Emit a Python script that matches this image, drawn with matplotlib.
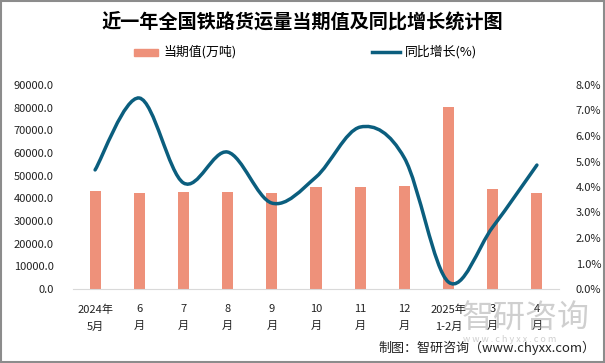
import numpy as np
import matplotlib
matplotlib.use("Agg")
import matplotlib.pyplot as plt
from matplotlib.path import Path
from matplotlib.patches import PathPatch, Rectangle
from matplotlib.lines import Line2D

plt.rcParams['font.family'] = ['Noto Sans CJK SC', 'DejaVu Sans']

# data
months = ["2024年\n5月", "6\n月", "7\n月", "8\n月", "9\n月", "10\n月",
          "11\n月", "12\n月", "2025年\n1-2月", "3\n月", "4\n月"]
volume = [43200, 42300, 42800, 42800, 42300, 45000, 45000, 45400, 80300, 44100, 42300]
growth = [4.67, 7.49, 4.16, 5.37, 3.37, 4.39, 6.35, 5.14, 0.27, 2.43, 4.86]

bar_color = "#EE917A"
line_color = "#0B5E7E"

fig = plt.figure(figsize=(6.05, 3.63), dpi=100)
ax = fig.add_axes([73 / 605, 74 / 363, 486 / 605, 204 / 363])
ax2 = ax.twinx()

x = np.arange(len(months))
ax.bar(x, volume, width=0.25, color=bar_color, zorder=2)
ax.set_xlim(-0.5, len(months) - 0.5)
ax.set_ylim(0, 90000)
ax.set_yticks(np.arange(0, 90001, 10000))
ax.set_yticklabels([f"{v:.1f}" for v in np.arange(0, 90001, 10000)])
ax.set_xticks(x)
ax.set_xticklabels(months, linespacing=1.85)

# smoothed line (catmull-rom style bezier, like excel's smoothed line)
pts = np.column_stack([x, growth]).astype(float)
verts = [pts[0]]
codes = [Path.MOVETO]
n = len(pts)
for i in range(n - 1):
    p0 = pts[i - 1] if i > 0 else pts[i]
    p1 = pts[i]
    p2 = pts[i + 1]
    p3 = pts[i + 2] if i + 2 < n else pts[i + 1]
    c1 = p1 + (p2 - p0) / 6
    c2 = p2 - (p3 - p1) / 6
    verts += [c1, c2, p2]
    codes += [Path.CURVE4] * 3
ax2.add_patch(PathPatch(Path(verts, codes), fill=False, edgecolor=line_color,
                        lw=2.5, capstyle='round', zorder=3))
ax2.set_ylim(0, 8)
ax2.set_yticks(np.arange(0, 8.01, 1))
ax2.set_yticklabels([f"{v:.1f}%" for v in np.arange(0, 8.01, 1)])

for a in (ax, ax2):
    for s in a.spines.values():
        s.set_visible(False)
    a.tick_params(length=0, labelsize=8, colors="#222222")
ax.spines['bottom'].set_visible(True)
ax.spines['bottom'].set_color("#D9D9D9")
ax.tick_params(axis='y', pad=14)
ax.tick_params(axis='x', pad=11)
ax2.tick_params(axis='y', pad=12)

# title and legend
fig.text(302 / 605, 1 - 22 / 363, "近一年全国铁路货运量当期值及同比增长统计图",
         ha='center', va='center', fontsize=13.8, fontweight='bold')
fig.patches.append(Rectangle((134 / 605, 1 - 56 / 363), 24 / 605, 7 / 363,
                             transform=fig.transFigure, color=bar_color))
fig.text(163 / 605, 1 - 52 / 363, "当期值(万吨)", va='center', fontsize=9.3)
fig.lines.append(Line2D([372 / 605, 400 / 605], [1 - 52 / 363] * 2,
                        transform=fig.transFigure, color=line_color, lw=2.5))
fig.text(405 / 605, 1 - 52 / 363, "同比增长(%)", va='center', fontsize=9.3)

# watermark
fig.text(526 / 605, 1 - 318 / 363, "智研咨询", ha='center', va='center',
         fontsize=23, color="#A8A8A8", alpha=0.55, zorder=0)
fig.text(510 / 605, 1 - 339 / 363, "w w w . c h y x x . c o m", ha='center',
         va='center', fontsize=6.5, color="#B0B0B0", alpha=0.6)

# footer
fig.text(595 / 605, 1 - 348 / 363, "制图：智研咨询（www.chyxx.com）",
         ha='right', va='center', fontsize=9.4, color="#222222")

fig.patches.append(Rectangle((0.001, 0.002), 0.997, 0.996, transform=fig.transFigure,
                             fill=False, edgecolor="#8C8C8C", lw=1.5))

fig.savefig("out.png", dpi=100)
